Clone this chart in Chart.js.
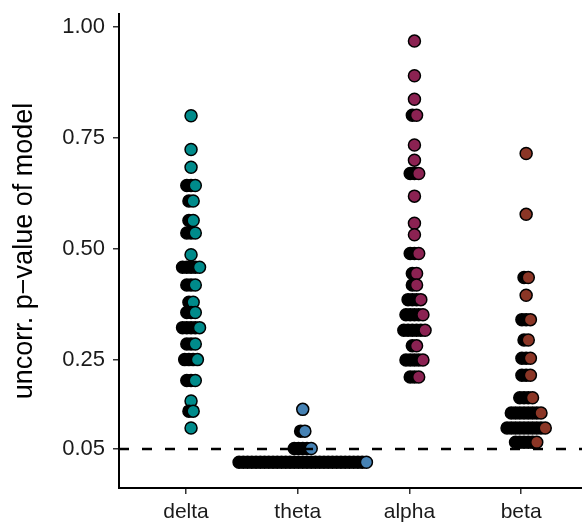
<!DOCTYPE html>
<html>
<head>
<meta charset="utf-8">
<script src="https://cdn.jsdelivr.net/npm/chart.js@4/dist/chart.umd.min.js"></script>
<style>
  html, body { margin: 0; padding: 0; background: #fff; overflow: hidden; }
</style>
</head>
<body>
<canvas id="pvals" width="582" height="525"></canvas>
<script>
// bands, in axis order
const categories = ['delta', 'theta', 'alpha', 'beta'];
const bandColors = ['#008B8B', '#4682B4', '#8B2252', '#8B3626'];

// p-value of each dot row, and how many dots share that row
const deltaRows   = [0.800, 0.724, 0.684, 0.643, 0.608, 0.564, 0.536, 0.487, 0.459, 0.419,
                     0.380, 0.357, 0.323, 0.286, 0.251, 0.204, 0.158, 0.135, 0.097];
const deltaCounts = [1, 1, 1, 3, 2, 2, 3, 1, 5, 3, 2, 3, 5, 3, 4, 3, 1, 2, 1];

const thetaRows   = [0.139, 0.090, 0.051, 0.020];
const thetaCounts = [1, 2, 5, 31];

const alphaRows   = [0.968, 0.890, 0.837, 0.801, 0.734, 0.700, 0.670, 0.619, 0.558, 0.532,
                     0.490, 0.445, 0.419, 0.386, 0.352, 0.317, 0.282, 0.250, 0.212];
const alphaCounts = [1, 1, 1, 2, 1, 1, 3, 1, 1, 1, 3, 2, 2, 4, 5, 6, 2, 5, 3];

const betaRows    = [0.715, 0.578, 0.436, 0.396, 0.341, 0.295, 0.254, 0.216, 0.165, 0.131, 0.097, 0.065];
const betaCounts  = [1, 1, 2, 1, 3, 2, 3, 3, 4, 8, 10, 6];

const yTicks = [0.05, 0.25, 0.50, 0.75, 1.00];
const cutoff = 0.05;

const rows = [deltaRows, thetaRows, alphaRows, betaRows];
const counts = [deltaCounts, thetaCounts, alphaCounts, betaCounts];

const xMin = 0.4, xMax = 4.545;
const step = 0.038;   // horizontal spacing of stacked dots (x units)
const nudge = 0.045;

function stack(bandIdx) {
  let pts = [], fills = [];
  rows[bandIdx].forEach((v, r) => {
    let n = counts[bandIdx][r];
    for (let k = 0; k < n; k++) {
      pts.push({ x: bandIdx + 1 + nudge + (k - (n - 1) / 2) * step, y: v });
      fills.push(k === n - 1 ? bandColors[bandIdx] : '#000');
    }
  });
  return { pts, fills };
}

let datasets = [{
  type: 'line',
  data: [{ x: xMin, y: cutoff }, { x: xMax, y: cutoff }],
  borderColor: '#000',
  borderWidth: 2.5,
  borderDash: [10, 13],
  pointRadius: 0,
  fill: false
}];

categories.forEach((c, i) => {
  let s = stack(i);
  datasets.push({
    label: c,
    data: s.pts,
    pointRadius: 6,
    pointBackgroundColor: s.fills,
    pointBorderColor: '#000',
    pointBorderWidth: 1.5
  });
});

let ctx = document.getElementById('pvals').getContext('2d');
let chart = new Chart(ctx, {
  type: 'scatter',
  data: { datasets: datasets },
  options: {
    responsive: false,
    animation: false,
    // panel runs to the right edge, as in the original crop
    layout: { autoPadding: false, padding: { top: 14, right: 0, left: 0, bottom: 0 } },
    plugins: { legend: { display: false }, tooltip: { enabled: false } },
    scales: {
      x: {
        type: 'linear',
        min: xMin,
        max: xMax,
        afterBuildTicks: (scale) => { scale.ticks = [1, 2, 3, 4].map(v => ({ value: v })); },
        afterFit: (scale) => {
          scale.height = 37;
          scale.paddingLeft = 0;
          scale.paddingRight = 0;
        },
        ticks: {
          callback: (v) => categories[v - 1],
          color: '#1a1a1a',
          font: { family: 'Liberation Sans', size: 21 },
          padding: 6,
          maxRotation: 0
        },
        grid: { display: true, drawOnChartArea: false, drawTicks: true, tickLength: 6, tickColor: '#333', lineWidth: 1.5 },
        border: { display: true, color: '#000', width: 2 }
      },
      y: {
        min: -0.038,
        max: 1.029,
        afterBuildTicks: (scale) => { scale.ticks = yTicks.map(v => ({ value: v })); },
        afterFit: (scale) => {
          scale.width = 119;
          scale.paddingTop = 0;
          scale.paddingBottom = 0;
        },
        ticks: {
          callback: (v) => v.toFixed(2),
          color: '#1a1a1a',
          font: { family: 'Liberation Sans', size: 22 },
          padding: 8
        },
        title: {
          display: true,
          text: 'uncorr. p\u2212value of model',
          color: '#000',
          font: { family: 'Liberation Sans', size: 27 },
          padding: { top: 8, bottom: 0 }
        },
        grid: { display: true, drawOnChartArea: false, drawTicks: true, tickLength: 6, tickColor: '#333', lineWidth: 1.5 },
        border: { display: true, color: '#000', width: 2 }
      }
    }
  }
});
</script>
</body>
</html>
